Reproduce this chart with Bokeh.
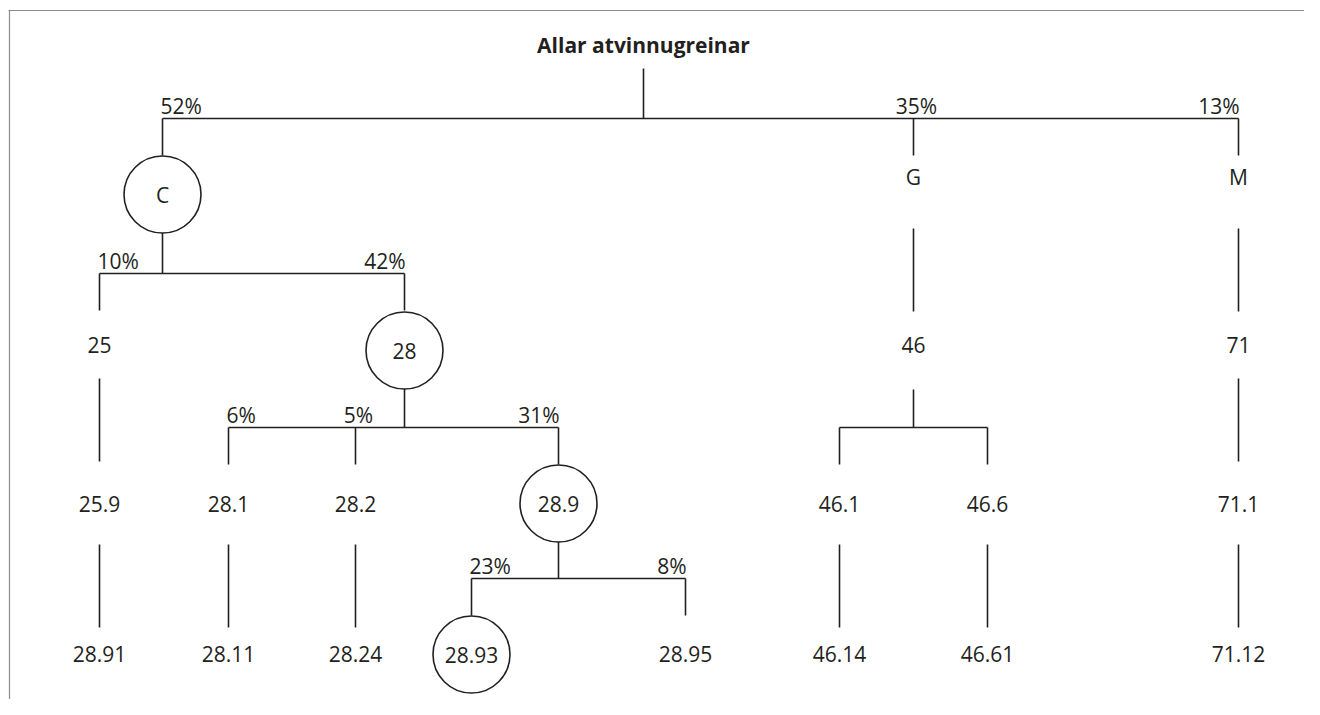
from bokeh.plotting import figure
from bokeh.models import Range1d, ColumnDataSource
from bokeh.embed import file_html
from bokeh.resources import INLINE
from bokeh.core.properties import value

# ---------------- data ----------------
labels = ["Allar atvinnugreinar", "C", "G", "M",
          "25", "28", "46", "71",
          "25.9", "28.1", "28.2", "28.9", "46.1", "46.6", "71.1",
          "28.91", "28.11", "28.24", "28.93", "28.95", "46.14", "46.61", "71.12"]
parents = [None, 0, 0, 0,
           1, 1, 2, 3,
           4, 5, 5, 5, 6, 6, 7,
           8, 9, 10, 11, 11, 12, 13, 14]
shares = ["", "52%", "35%", "13%",
          "10%", "42%", "", "",
          "", "6%", "5%", "31%", "", "", "",
          "", "", "", "23%", "8%", "", "", ""]
circled = ["C", "28", "28.9", "28.93"]

# ---------------- layout (pixel positions of the diagram) ----------------
node_x = {"Allar atvinnugreinar": 643, "C": 162, "G": 913, "M": 1238,
          "25": 99, "28": 404, "46": 913, "71": 1238,
          "25.9": 99, "28.1": 228, "28.2": 355, "28.9": 558, "46.1": 839, "46.6": 987, "71.1": 1238,
          "28.91": 99, "28.11": 228, "28.24": 355, "28.93": 471, "28.95": 685,
          "46.14": 839, "46.61": 987, "71.12": 1238}
LABEL_Y = [44, 176, 344, 503, 653]       # plain label centre per depth
CIRCLE_Y = [None, 194, 350, 503, 654]    # circle centre per depth
BAR_Y = [118, 273, 427, 578]             # branching bar below each depth
PLAIN_BOTTOM = [68, 228, 378, 544]       # where a plain node's outgoing line starts
SINGLE_TOP = [None, 155, 311, 461, 627]  # where a direct (non-bar) line ends
R = 38
FONT = "Open Sans"
FS = 21
INK = "#231f20"

n = len(labels)
depth = [0] * n
for i in range(n):
    d, j = 0, i
    while parents[j] is not None:
        j = parents[j]
        d += 1
    depth[i] = d
children = {i: [j for j in range(n) if parents[j] == i] for i in range(n)}


def centre_y(i):
    return CIRCLE_Y[depth[i]] if labels[i] in circled else LABEL_Y[depth[i]]


def bottom_y(i, bar=None):
    if labels[i] in circled:
        return centre_y(i) + R
    if depth[i] > 0 and bar is not None:
        return bar - 38
    return PLAIN_BOTTOM[depth[i]]


x0, y0, x1, y1 = [], [], [], []
pl = {"left": dict(x=[], y=[], t=[]), "center": dict(x=[], y=[], t=[]), "right": dict(x=[], y=[], t=[])}

for i in range(n):
    kids = children[i]
    if not kids:
        continue
    xi = node_x[labels[i]]
    if len(kids) > 1:
        by = BAR_Y[depth[i]]
        x0.append(xi); y0.append(bottom_y(i, by)); x1.append(xi); y1.append(by)
        kx = [node_x[labels[k]] for k in kids]
        x0.append(min(kx)); y0.append(by); x1.append(max(kx)); y1.append(by)
        for k in kids:
            cx = node_x[labels[k]]
            x0.append(cx); y0.append(by); x1.append(cx); y1.append(by + 37)
            if shares[k]:
                if cx == min(kx):
                    g, px = "left", cx - 2
                elif cx == max(kx):
                    g, px = "right", cx + 1
                else:
                    g, px = "center", cx + 3
                pl[g]["x"].append(px); pl[g]["y"].append(by - 13); pl[g]["t"].append(shares[k])
    else:
        k = kids[0]
        x0.append(xi); y0.append(bottom_y(i)); x1.append(xi); y1.append(SINGLE_TOP[depth[k]])

p = figure(width=1304, height=699, output_backend="svg", toolbar_location=None,
           x_range=Range1d(0, 1304), y_range=Range1d(699, 0), min_border=0)
p.axis.visible = False
p.grid.visible = False
p.outline_line_color = None
p.background_fill_color = "white"

# frame (top and left edges)
p.segment(x0=[8, 9], y0=[10, 10], x1=[1304, 9], y1=[10, 699], line_color="#8c8c8c", line_width=1.2)

p.segment(x0=x0, y0=y0, x1=x1, y1=y1, line_color=INK, line_width=1.6)

ci = [i for i in range(n) if labels[i] in circled]
p.scatter(x=[node_x[labels[i]] for i in ci], y=[centre_y(i) for i in ci], size=2 * R + 1,
          marker="circle", fill_color="white", line_color=INK, line_width=1.6)

src_nodes = ColumnDataSource(dict(x=[node_x[labels[i]] for i in range(1, n)],
                                  y=[centre_y(i) for i in range(1, n)],
                                  t=labels[1:]))
p.text(x="x", y="y", text="t", source=src_nodes, text_font=value(FONT), text_font_size=f"{FS}px",
       text_align="center", text_baseline="middle", text_color=INK)

p.text(x=[node_x[labels[0]]], y=[LABEL_Y[0]], text=[labels[0]], text_font=value(FONT),
       text_font_size=f"{FS}px", text_font_style="bold", text_align="center",
       text_baseline="middle", text_color=INK)

for g, d in pl.items():
    if d["t"]:
        p.text(x=d["x"], y=d["y"], text=d["t"], text_font=value(FONT), text_font_size=f"{FS}px",
               text_align=g, text_baseline="middle", text_color=INK)

open("out.html", "w").write(file_html(p, INLINE))
